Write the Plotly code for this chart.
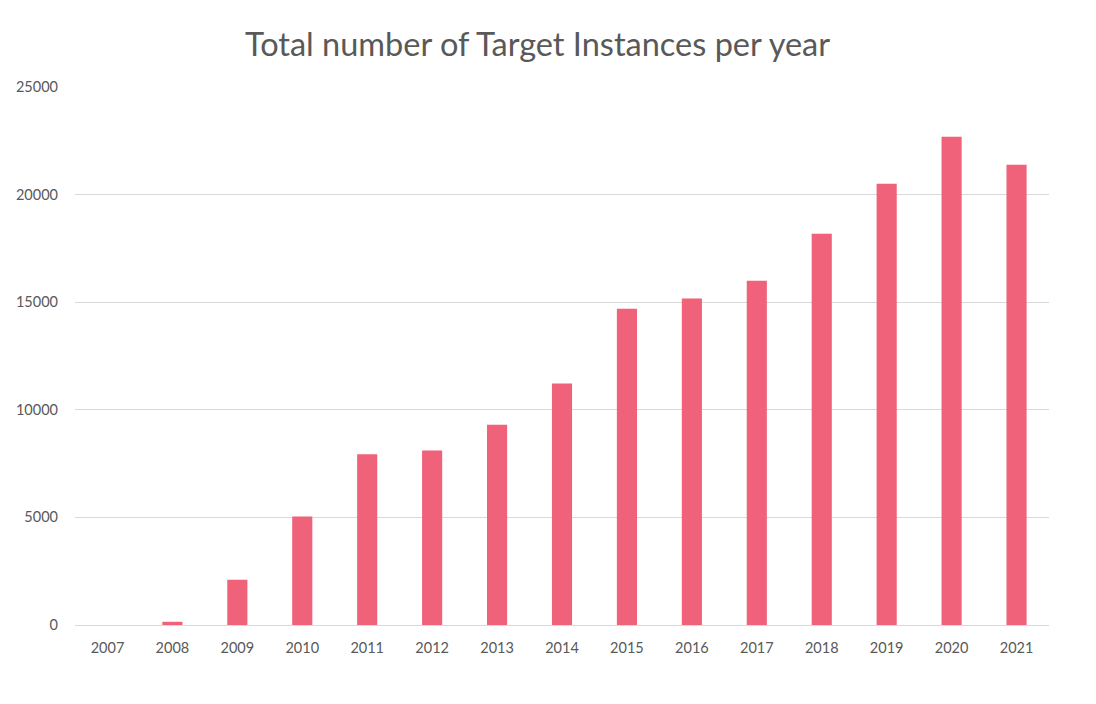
import plotly.graph_objects as go

years = [str(y) for y in range(2007, 2022)]
instances = [0, 150, 2100, 5040, 7930, 8110, 9310, 11220, 14700, 15170, 16000, 18180, 20500, 22690, 21390]
y_ticks = [0, 5000, 10000, 15000, 20000, 25000]

fig = go.Figure(go.Bar(
    x=years, y=instances,
    marker=dict(color="#F0617A", line=dict(width=0)),
    width=0.31,
))

fig.update_layout(
    width=1088, height=696,
    paper_bgcolor="white", plot_bgcolor="white",
    margin=dict(l=67, r=47, t=79, b=79),
    font=dict(family="Lato", color="#595959", size=14.5),
    title=dict(text="Total number of Target Instances per year", x=0.4867, xanchor="center",
               y=0.947, yanchor="middle", font=dict(family="Lato", size=32.5, color="#595959")),
    showlegend=False,
    bargap=0.69,
)
fig.update_xaxes(type="category", showline=True, linecolor="#d9d9d9", linewidth=1,
                 showgrid=False, ticks="", tickfont=dict(size=14.5, color="#595959"),
                 ticklabelstandoff=10, automargin=False)
fig.update_yaxes(range=[0, 25000], tickvals=y_ticks, tickformat="d", showgrid=True,
                 gridcolor="#d9d9d9", gridwidth=1, zeroline=False, showline=False, ticks="",
                 tickfont=dict(size=14.5, color="#595959"), ticklabelstandoff=16,
                 automargin=False)

fig.write_html("out.html")
